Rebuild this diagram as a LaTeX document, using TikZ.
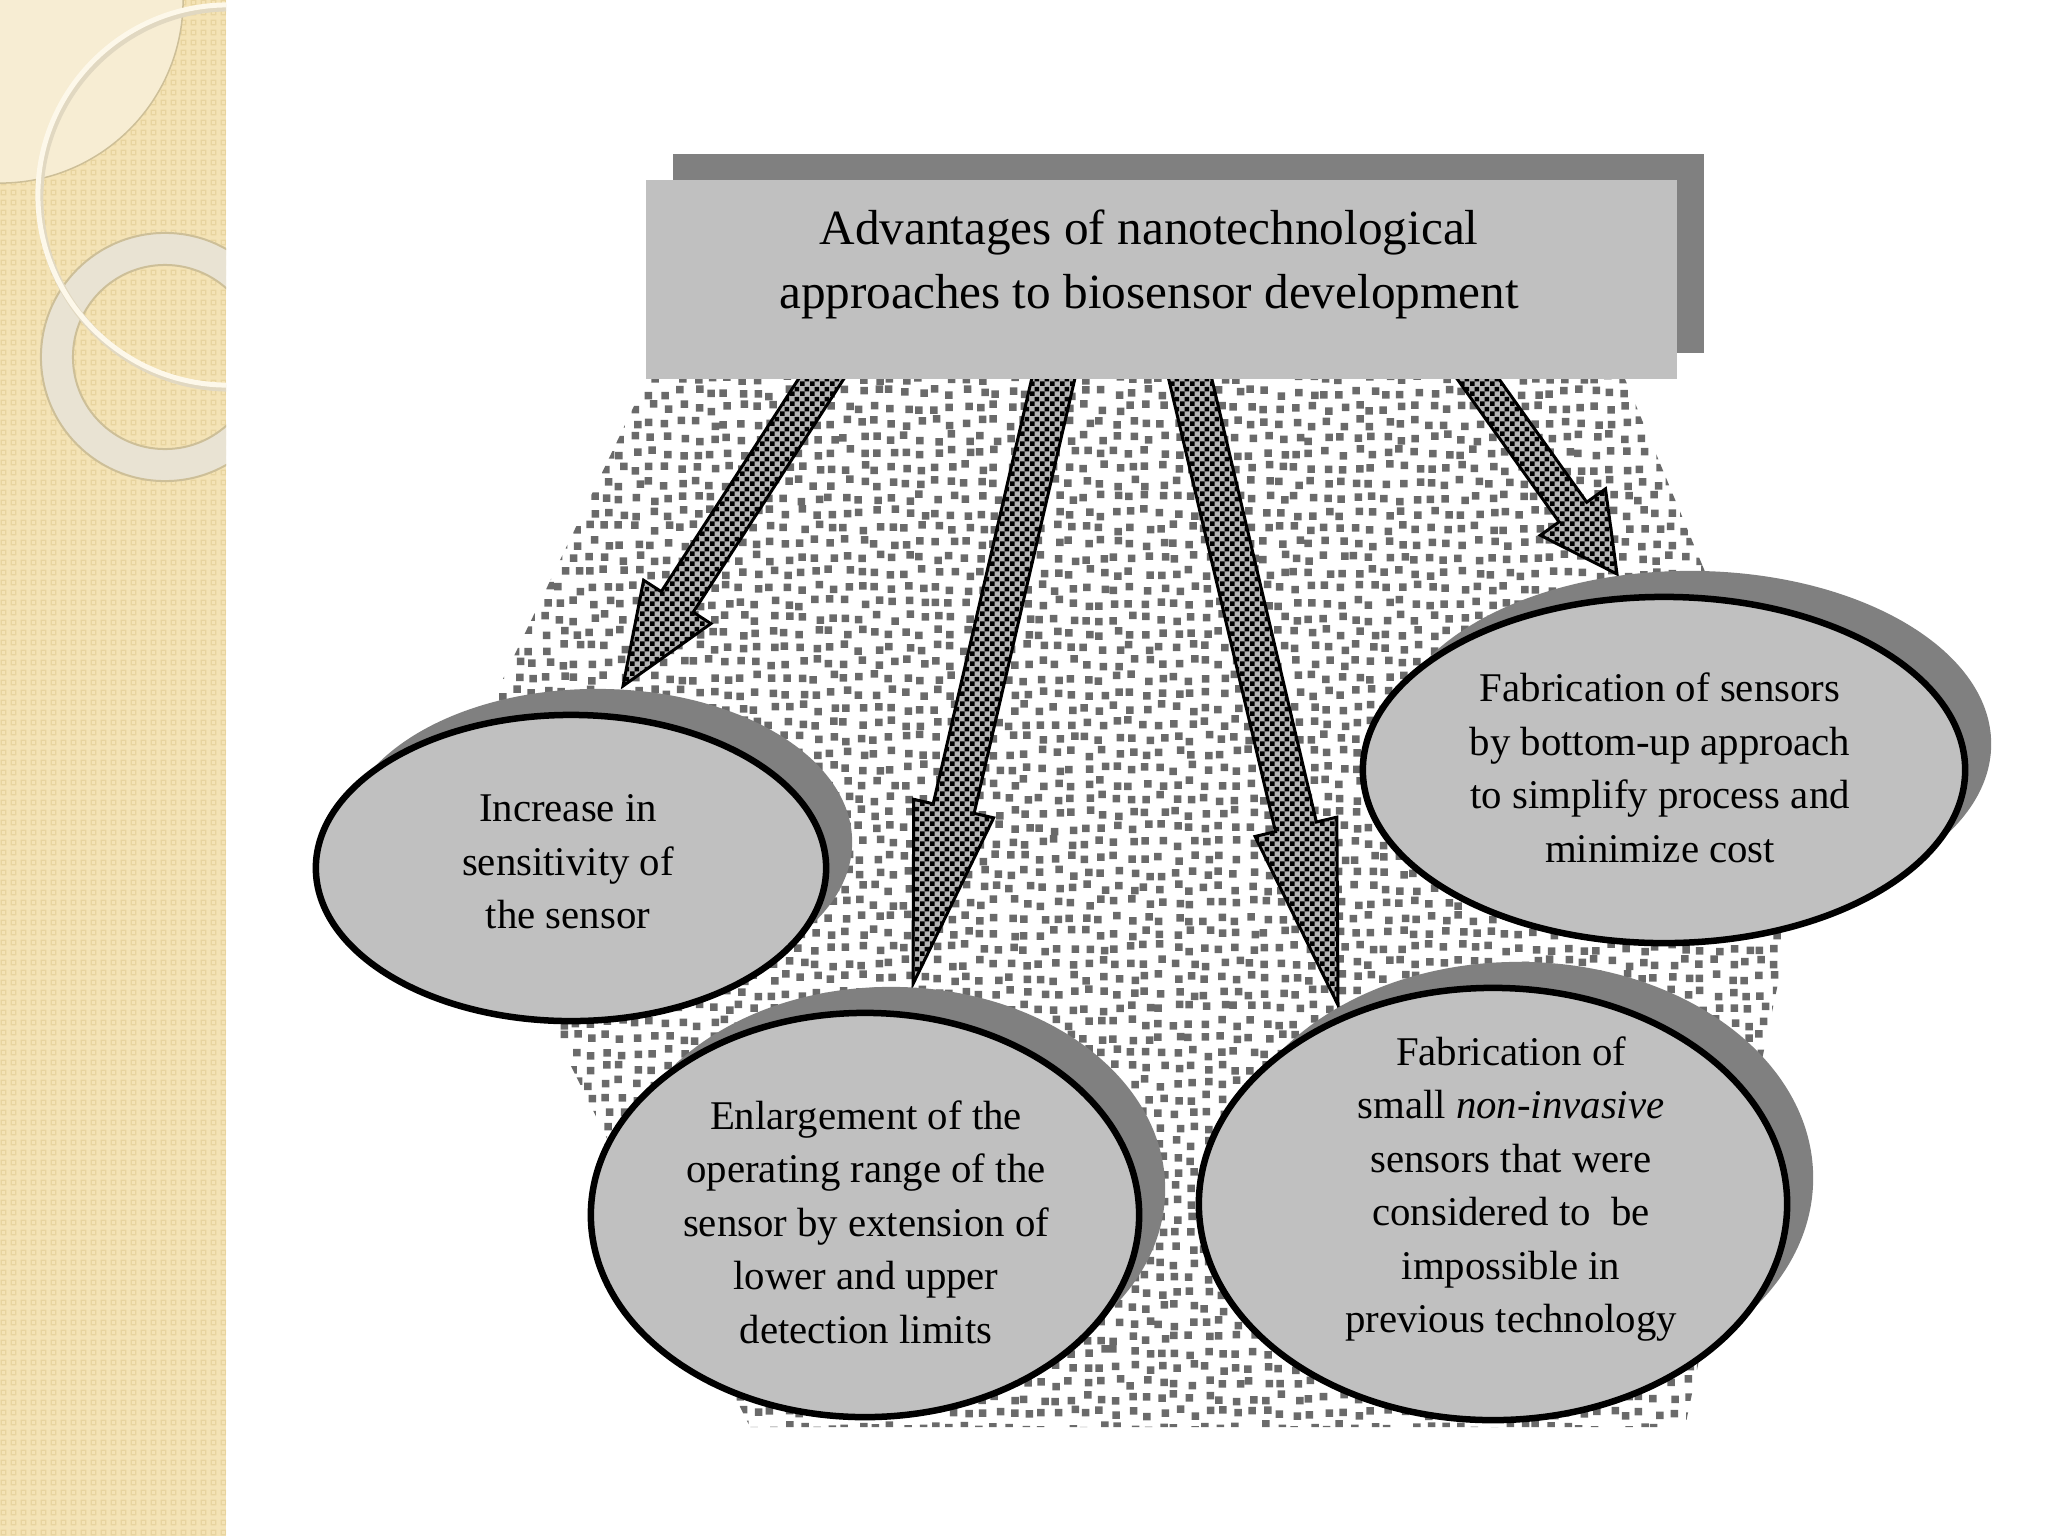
\documentclass[tikz,border=0pt]{standalone}
\usepackage{fontspec}
\setmainfont{Liberation Serif}
\usetikzlibrary{calc,shapes.geometric,shadows,patterns,patterns.meta}
\definecolor{boxgray}{HTML}{C0C0C0}
\definecolor{shadowgray}{HTML}{808080}
\definecolor{dotgray}{HTML}{6A6A6A}
\definecolor{beige}{HTML}{F4E3B6}
\definecolor{beigeline}{HTML}{E8D49F}
\definecolor{beigelight}{HTML}{F7EDD3}
\definecolor{ringcol}{HTML}{E9E3D3}
\definecolor{ringedge}{HTML}{CDBF98}
\definecolor{creamwhite}{HTML}{FDF8EA}

\tikzdeclarepattern{
  name=finechecker, type=uncolored,
  bottom left={(0cm,0cm)}, top right={(0.1cm,0.1cm)},
  tile size={(0.1cm,0.1cm)},
  code={
    \fill (0cm,0cm) rectangle (0.05cm,0.05cm);
    \fill (0.05cm,0.05cm) rectangle (0.1cm,0.1cm);
  }
}
\tikzdeclarepattern{
  name=beigesq, type=uncolored,
  bottom left={(0cm,0cm)}, top right={(0.1cm,0.1cm)},
  tile size={(0.1cm,0.1cm)},
  code={
    \draw[line width=0.014cm] (0.025cm,0.025cm) rectangle (0.075cm,0.075cm);
  }
}

\pgfdeclarelayer{bg}
\pgfsetlayers{bg,main}

\tikzset{
  titlebox/.style={rectangle, fill=boxgray, inner sep=0pt,
    minimum width=10.31cm, minimum height=1.99cm,
    drop shadow={shadow xshift=0.27cm, shadow yshift=0.26cm, fill=shadowgray, opacity=1}},
  titletext/.style={align=center, inner sep=0pt, font=\fontsize{14}{18.2}\selectfont},
  bubble/.style={ellipse, draw=black, line width=0.065cm, fill=boxgray, inner sep=0pt,
    drop shadow={shadow xshift=0.26cm, shadow yshift=0.26cm, fill=shadowgray, opacity=1}},
  bubbletext/.style={align=center, inner sep=0pt, font=\fontsize{11.6}{15.2}\selectfont},
  blockarrowstyle/.style={draw=black, line width=0.03cm, line join=miter,
    preaction={fill=black!30}, pattern=finechecker, pattern color=black},
  halftonedot/.style={fill=dotgray},
}

% #1 start, #2 tip, #3 shaft half width, #4 head half width, #5 head length
\newcommand\blockarrow[5]{%
  \coordinate (ba-s) at ($(#1)!-0.3cm!(#2)$);
  \coordinate (ba-h) at ($(#2)!#5!(#1)$);
  \path[blockarrowstyle] ($(ba-s)!#3!90:(#2)$) -- ($(ba-h)!#3!90:(#2)$)
    -- ($(ba-h)!#4!90:(#2)$) -- (#2) -- ($(ba-h)!#4!-90:(#2)$)
    -- ($(ba-h)!#3!-90:(#2)$) -- ($(ba-s)!#3!-90:(#2)$) -- cycle;}

\begin{document}
\begin{tikzpicture}[x=0.01cm,y=-0.01cm]
\useasboundingbox (0,0) rectangle (2048,1536);

% title
\node[titlebox] (title) at (1161.5,279.5) {};
\node[titletext] (titletext) at (1149,264) {Advantages of nanotechnological\\approaches to biosensor development};

% ellipses
\node[bubble, minimum width=5.10cm, minimum height=3.06cm] (e1) at (571,868) {};
\node[bubbletext] (t1) at (568,862) {Increase in\\sensitivity of\\the sensor};

\node[bubble, minimum width=5.48cm, minimum height=4.04cm] (e2) at (865,1215) {};
\node[bubbletext] (t2) at (866,1222) {Enlargement of the\\operating range of the\\sensor by extension of\\lower and upper\\detection limits};

\node[bubble, minimum width=5.88cm, minimum height=4.32cm] (e3) at (1493,1204) {};
\node[bubbletext] (t3) at (1511,1189) {Fabrication of\\small \emph{non-invasive}\\sensors that were\\considered to~~be\\impossible in\\previous technology};

\node[bubble, minimum width=6.02cm, minimum height=3.46cm] (e4) at (1664,770) {};
\node[bubbletext] (t4) at (1660,768) {Fabrication of sensors\\by bottom-up approach\\to simplify process and\\minimize cost};

% connector end points
\coordinate (s1) at ($(title.south west)!0.170!(title.south east)$);
\coordinate (s2) at ($(title.south west)!0.395!(title.south east)$);
\coordinate (s3) at ($(title.south west)!0.528!(title.south east)$);
\coordinate (s4) at ($(title.south west)!0.807!(title.south east)$);
\coordinate (tip1) at (623,686);
\coordinate (tip2) at (913,984);
\coordinate (tip3) at (1338,1005);
\coordinate (tip4) at (1617,574);

\begin{pgfonlayer}{bg}
  \fill[white] (0,0) rectangle (2048,1536);
  % decorative strip
  \begin{scope}
    \clip (0,0) rectangle (226,1536);
    \fill[beige] (0,0) rectangle (226,1536);
    \fill[pattern=beigesq, pattern color=beigeline] (0,0) rectangle (226,1536);
    \fill[beigelight] (0,0) circle[radius=1.83cm];
    \draw[ringedge, line width=0.015cm] (0,0) circle[radius=1.83cm];
    \fill[ringcol, even odd rule] (165,357) circle[radius=1.24cm] (165,357) circle[radius=0.92cm];
    \draw[ringedge, line width=0.02cm] (165,357) circle[radius=1.24cm] (165,357) circle[radius=0.92cm];
    \draw[ringedge!60, line width=0.07cm] (230,198) circle[radius=1.90cm];
    \draw[creamwhite, line width=0.05cm] (228,195) circle[radius=1.90cm];
  \end{scope}
  % halftone backdrop
  \begin{scope}
    \clip (647,379) -- (442,806) -- (750,1427) -- (1685,1427)
      -- (1785,950) -- (1750,680) -- (1625,379) -- cycle;
    \pgfmathsetseed{11}
    \foreach \j in {0,...,70}{
      \path[halftonedot] \foreach \i in {0,...,90}{
        ({438+15*\i+4*rand},{374+15*\j+4*rand}) rectangle ++(7.5,7.5)};
    }
  \end{scope}
  % block arrows
  \blockarrow{s1}{tip1}{0.19cm}{0.40cm}{1.00cm}
  \blockarrow{s2}{tip2}{0.21cm}{0.41cm}{1.80cm}
  \blockarrow{s3}{tip3}{0.21cm}{0.42cm}{1.83cm}
  \blockarrow{s4}{tip4}{0.17cm}{0.40cm}{0.76cm}
\end{pgfonlayer}
\end{tikzpicture}
\end{document}
